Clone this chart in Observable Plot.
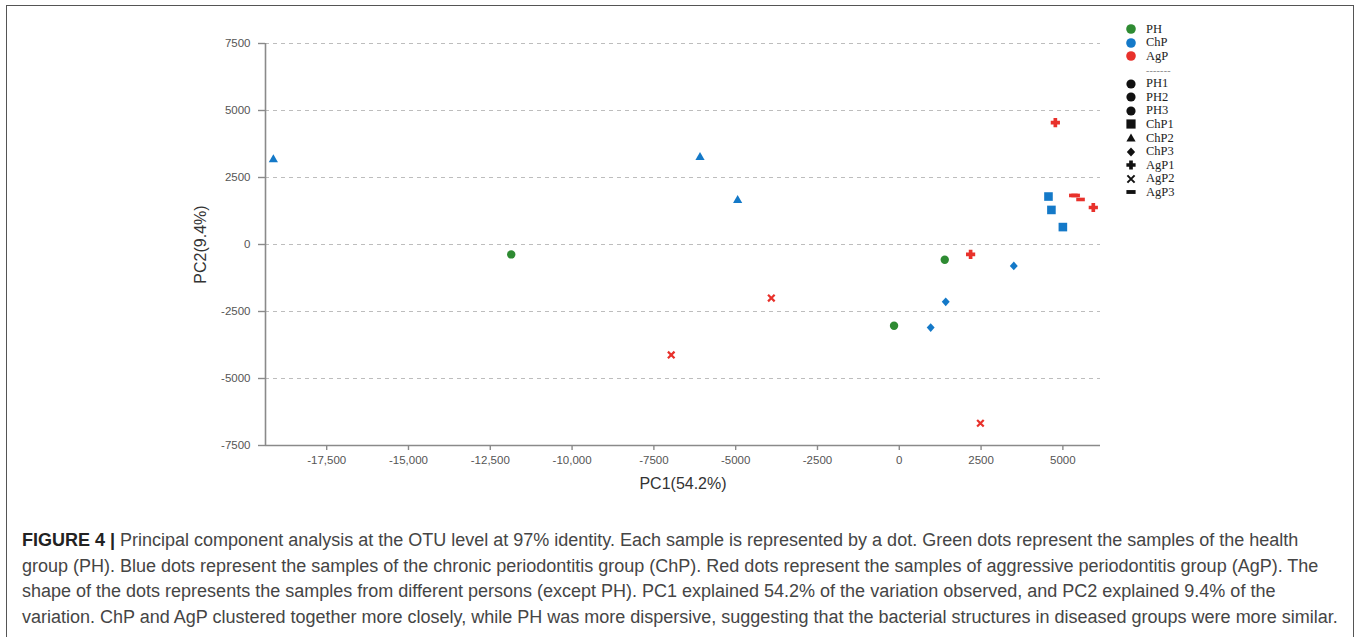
<!DOCTYPE html>
<html>
<head>
<meta charset="utf-8">
<script src="https://cdn.jsdelivr.net/npm/d3@7"></script>
<script src="https://cdn.jsdelivr.net/npm/@observablehq/plot@0.6"></script>
<style>
  html, body { margin: 0; padding: 0; background: #fff; }
  body { width: 1360px; height: 637px; position: relative; overflow: hidden; font-family: "Liberation Sans", Arial, sans-serif; }
  #frame { position: absolute; left: 6px; top: 5px; width: 1348px; height: 700px; border: 1.5px solid #555; box-sizing: border-box; }
  #chart { position: absolute; left: 0; top: 0; }
  #legend { position: absolute; left: 1124px; top: 22.5px; font-family: "Liberation Serif", "Times New Roman", serif; font-size: 12.5px; color: #222; }
  #legend .row { display: flex; align-items: center; height: 13.6px; }
  #legend .row svg { width: 14px; height: 14px; flex: none; }
  #legend .row span { margin-left: 8px; white-space: nowrap; }
  #legend .sep span { color: #888; font-size: 10px; letter-spacing: 0.2px; margin-left: 22px; }
  #caption { position: absolute; left: 22px; top: 528px; font-size: 18px; line-height: 25.5px; color: #454545; white-space: nowrap; }
  #caption b { color: #222; }
</style>
</head>
<body>
<div id="frame"></div>
<div id="chart"></div>
<div id="legend"></div>
<div id="caption">
  <div><b>FIGURE 4 |</b> Principal component analysis at the OTU level at 97% identity. Each sample is represented by a dot. Green dots represent the samples of the health</div>
  <div>group (PH). Blue dots represent the samples of the chronic periodontitis group (ChP). Red dots represent the samples of aggressive periodontitis group (AgP). The</div>
  <div>shape of the dots represents the samples from different persons (except PH). PC1 explained 54.2% of the variation observed, and PC2 explained 9.4% of the</div>
  <div>variation. ChP and AgP clustered together more closely, while PH was more dispersive, suggesting that the bacterial structures in diseased groups were more similar.</div>
</div>
<script>
// ---- Data ----
const groups = ["PH", "ChP", "AgP"];
const groupColors = ["#2e8b32", "#1479c8", "#e8312b"];
const persons = ["PH1", "PH2", "PH3", "ChP1", "ChP2", "ChP3", "AgP1", "AgP2", "AgP3"];
const personGroups = ["PH", "PH", "PH", "ChP", "ChP", "ChP", "AgP", "AgP", "AgP"];
const personShapes = ["circle", "circle", "circle", "square", "triangle", "diamond", "plus", "times", "dash"];

const samplePerson = ["PH1", "PH2", "PH3",
  "ChP1", "ChP1", "ChP1",
  "ChP2", "ChP2", "ChP2",
  "ChP3", "ChP3", "ChP3",
  "AgP1", "AgP1", "AgP1",
  "AgP2", "AgP2", "AgP2",
  "AgP3", "AgP3", "AgP3"];
const pc1 = [-11860, -160, 1390,
  4560, 4650, 5000,
  -19130, -6090, -4940,
  3500, 1420, 960,
  4770, 2180, 5930,
  -3910, -6970, 2480,
  5320, 5390, 5540];
const pc2 = [-370, -3030, -570,
  1790, 1290, 650,
  3200, 3280, 1680,
  -800, -2140, -3100,
  4550, -370, 1380,
  -2000, -4120, -6670,
  1830, 1830, 1680];

const xTicks = [-17500, -15000, -12500, -10000, -7500, -5000, -2500, 0, 2500, 5000];
const xTickLabels = ["-17,500", "-15,000", "-12,500", "-10,000", "-7500", "-5000", "-2500", "0", "2500", "5000"];
const yTicks = [7500, 5000, 2500, 0, -2500, -5000, -7500];
const yTickLabels = ["7500", "5000", "2500", "0", "-2500", "-5000", "-7500"];
const xDomain = [-19370, 6150];
const yDomain = [-7500, 7500];

// ---- Symbols ----
function makeSymbol(fn) { return { draw(ctx, size) { fn(ctx, Math.sqrt(size / Math.PI)); } }; }
const shapeDefs = {
  circle: makeSymbol((c, r) => { c.moveTo(r, 0); c.arc(0, 0, r, 0, 2 * Math.PI); }),
  square: makeSymbol((c, r) => { c.rect(-r, -r, 2 * r, 2 * r); }),
  triangle: makeSymbol((c, r) => { c.moveTo(0, -r); c.lineTo(r, r * 0.75); c.lineTo(-r, r * 0.75); c.closePath(); }),
  diamond: makeSymbol((c, r) => { c.moveTo(0, -r); c.lineTo(r * 0.9, 0); c.lineTo(0, r); c.lineTo(-r * 0.9, 0); c.closePath(); }),
  plus: makeSymbol((c, r) => {
    const w = r * 0.4;
    c.moveTo(-w, -r); c.lineTo(w, -r); c.lineTo(w, -w); c.lineTo(r, -w); c.lineTo(r, w); c.lineTo(w, w);
    c.lineTo(w, r); c.lineTo(-w, r); c.lineTo(-w, w); c.lineTo(-r, w); c.lineTo(-r, -w); c.lineTo(-w, -w); c.closePath();
  }),
  times: makeSymbol((c, r) => { c.moveTo(-r, -r); c.lineTo(r, r); c.moveTo(r, -r); c.lineTo(-r, r); }),
  dash: makeSymbol((c, r) => { c.rect(-r, -r * 0.42, 2 * r, r * 0.84); })
};
const shapeR = { circle: 4.2, square: 4.3, triangle: 4.6, diamond: 4.4, plus: 4.6, times: 3.3, dash: 4.3 };

const samples = samplePerson.map((p, i) => ({
  person: p,
  group: personGroups[persons.indexOf(p)],
  shape: personShapes[persons.indexOf(p)],
  pc1: pc1[i],
  pc2: pc2[i]
}));

const dotMarks = persons.map((p, k) => {
  const shape = personShapes[k];
  const data = samples.filter(d => d.person === p);
  const stroked = shape === "times";
  return Plot.dot(data, {
    x: "pc1", y: "pc2",
    symbol: shapeDefs[shape],
    r: shapeR[shape],
    fill: stroked ? "none" : "group",
    stroke: stroked ? "group" : "none",
    strokeWidth: stroked ? 2.2 : 0
  });
});

const chart = Plot.plot({
  width: 1360,
  height: 500,
  marginLeft: 265,
  marginRight: 260,
  marginTop: 43,
  marginBottom: 55,
  style: { fontFamily: "'Liberation Sans', Arial, sans-serif", fontSize: "11.5px", color: "#555", background: "transparent" },
  x: { domain: xDomain },
  y: { domain: yDomain },
  color: { domain: groups, range: groupColors },
  marks: [
    Plot.gridY(yTicks.filter(t => t !== -7500), { stroke: "#bdbdbd", strokeOpacity: 1, strokeDasharray: "4,4", strokeWidth: 1.2 }),
    Plot.ruleY([yDomain[0]], { stroke: "#8a8a8a", strokeWidth: 1.6 }),
    Plot.ruleX([xDomain[0]], { stroke: "#8a8a8a", strokeWidth: 1.6 }),
    Plot.axisX({
      ticks: xTicks,
      tickFormat: d => xTickLabels[xTicks.indexOf(d)],
      tickSize: 5, tickPadding: 5, stroke: "#8a8a8a", strokeWidth: 1.4, fill: "#555",
      label: "PC1(54.2%)", labelAnchor: "center", labelOffset: 43, labelArrow: "none"
    }),
    Plot.axisY({
      ticks: yTicks,
      tickFormat: d => yTickLabels[yTicks.indexOf(d)],
      tickSize: 7, tickPadding: 8, stroke: "#8a8a8a", strokeWidth: 1.4, fill: "#555",
      label: "PC2(9.4%)", labelAnchor: "center", labelOffset: 71, labelArrow: "none"
    }),
    ...dotMarks
  ]
});
// enlarge axis labels
chart.querySelectorAll("[aria-label='x-axis label'] text, [aria-label='y-axis label'] text").forEach(t => {
  t.style.fontSize = "16px"; t.setAttribute("fill", "#333");
});
document.getElementById("chart").appendChild(chart);

// ---- Legend ----
const legend = d3.select("#legend");
function iconPath(shape, r) {
  const p = d3.path();
  shapeDefs[shape].draw(p, Math.PI * r * r);
  return p.toString();
}
groups.forEach((g, i) => {
  const row = legend.append("div").attr("class", "row");
  const svg = row.append("svg").attr("viewBox", "-7 -7 14 14");
  svg.append("path").attr("d", iconPath("circle", 4.8)).attr("fill", groupColors[i]);
  row.append("span").text(g);
});
legend.append("div").attr("class", "row sep").append("span").text("-------");
persons.forEach((p, k) => {
  const shape = personShapes[k];
  const row = legend.append("div").attr("class", "row");
  const svg = row.append("svg").attr("viewBox", "-7 -7 14 14");
  const stroked = shape === "times";
  svg.append("path").attr("d", iconPath(shape, stroked ? 3.6 : 4.6))
    .attr("fill", stroked ? "none" : "#111")
    .attr("stroke", stroked ? "#111" : "none")
    .attr("stroke-width", stroked ? 2 : 0);
  row.append("span").text(p);
});
</script>
</body>
</html>
